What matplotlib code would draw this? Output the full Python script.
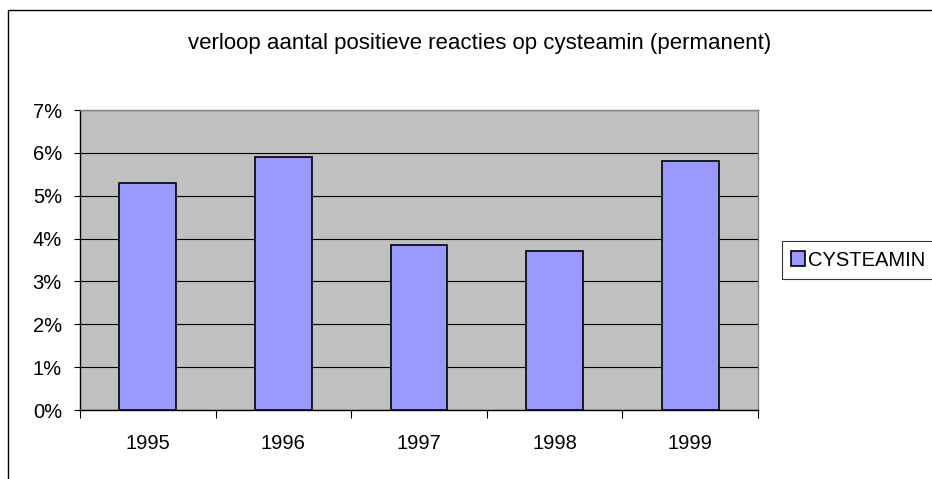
import matplotlib
matplotlib.use("Agg")
import matplotlib.pyplot as plt
from matplotlib.patches import Rectangle
from matplotlib.ticker import FixedLocator, NullFormatter

years = ["1995", "1996", "1997", "1998", "1999"]
values = [5.3, 5.9, 3.85, 3.72, 5.8]
series_name = "CYSTEAMIN"
title = "verloop aantal positieve reacties op cysteamin (permanent)"
yticks = [0, 1, 2, 3, 4, 5, 6, 7]

W, H = 932, 479
fig = plt.figure(figsize=(W / 100, H / 100), dpi=100)
plt.rcParams['font.family'] = ['Liberation Sans', 'DejaVu Sans']

# outer chart border (extends beyond the picture on right/bottom)
fig.patches.append(Rectangle((8 / W, -0.1), 1.2, 1 - 10 / H + 0.1, transform=fig.transFigure,
                             fill=False, edgecolor='black', linewidth=1.0))

ax = fig.add_axes([80 / W, 1 - 410 / H, (758 - 80) / W, (410 - 110) / H])
ax.set_facecolor('#C0C0C0')
x = list(range(len(years)))
ax.bar(x, values, width=0.42, color='#9999FF', edgecolor='black', linewidth=1.2,
       label=series_name, zorder=3)
ax.set_xlim(-0.5, len(years) - 0.5)
ax.set_ylim(0, 7)
ax.set_yticks(yticks)
ax.set_yticklabels([f"{t}%" for t in yticks], fontsize=14.5)
ax.yaxis.grid(True, color='black', linewidth=0.8, zorder=1)
ax.set_axisbelow(True)

ax.set_xticks(x)
ax.set_xticklabels(years, fontsize=14.5)
ax.tick_params(axis='x', which='major', length=0, pad=17)
ax.xaxis.set_minor_locator(FixedLocator([i - 0.5 for i in range(len(years) + 1)]))
ax.xaxis.set_minor_formatter(NullFormatter())
ax.tick_params(axis='x', which='minor', length=6, width=0.8, direction='out')
ax.tick_params(axis='y', length=4, width=0.8, direction='out', pad=9)

for s in ['top', 'right']:
    ax.spines[s].set_color('#808080')
    ax.spines[s].set_linewidth(1.0)
for s in ['left', 'bottom']:
    ax.spines[s].set_color('black')
    ax.spines[s].set_linewidth(1.0)

fig.text(480 / W, 1 - 43 / H, title, ha='center', va='center', fontsize=16)

leg = fig.legend(loc='center left', bbox_to_anchor=(782 / W, 1 - 260 / H),
                 fontsize=14.5, frameon=True, fancybox=False, borderpad=0.45,
                 handlelength=0.7, handleheight=0.7, handletextpad=0.15,
                 borderaxespad=0)
leg.get_frame().set_edgecolor('black')
leg.get_frame().set_linewidth(0.8)

fig.savefig("out.png", dpi=100)
